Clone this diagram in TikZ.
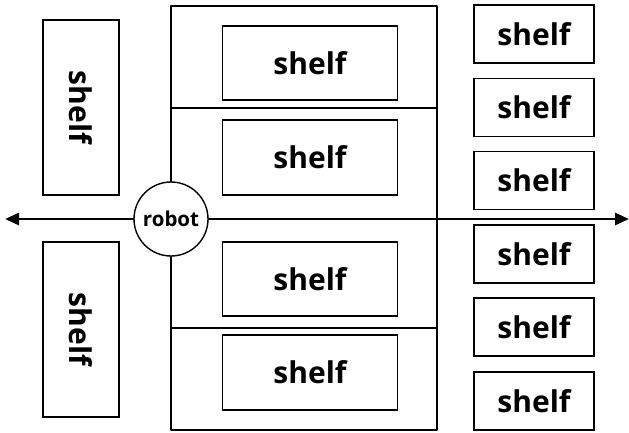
\documentclass[tikz,border=0pt]{standalone}
\usepackage{fontspec}
\setmainfont{Open Sans}
\usetikzlibrary{arrows.meta}
\begin{document}
\begin{tikzpicture}[x=1pt,y=-1pt,
  shelfbox/.style={draw,line width=1.8pt,font=\fontsize{30}{30}\selectfont\bfseries,inner sep=0pt},
  frameline/.style={line width=2.8pt},
  robotnode/.style={circle,draw,line width=1.4pt,fill=white,minimum size=74pt,inner sep=0pt,font=\fontsize{20.5}{20.5}\selectfont\bfseries}]
\useasboundingbox (0,0) rectangle (629,432);
% frame
\draw[frameline,line join=round] (171,6) -- (437,6) -- (437,430) -- (171,430) -- cycle;
\draw[frameline] (171,108) -- (437,108);
\draw[frameline] (171,328) -- (437,328);
% arrow
\coordinate (L) at (5,219);
\coordinate (R) at (629,219);
\draw[line width=2.8pt,{Triangle[length=14pt,width=12pt]}-{Triangle[length=14pt,width=12pt]}] (L) -- (R);
\node[robotnode] (robot) at (171,219) {robot};
% left shelves
\node[shelfbox,minimum width=76pt,minimum height=175pt] (l1) at (81,107.5) {};
\node[rotate=-90,font=\fontsize{30}{30}\selectfont\bfseries] (l1t) at (l1.center) {shelf};
\node[shelfbox,minimum width=76pt,minimum height=175pt] (l2) at (81,329.5) {};
\node[rotate=-90,font=\fontsize{30}{30}\selectfont\bfseries] (l2t) at (l2.center) {shelf};
% inner shelves
\node[shelfbox,minimum width=175pt,minimum height=74pt] (i1) at (310,63) {shelf};
\node[shelfbox,minimum width=175pt,minimum height=75pt] (i2) at (310,157.5) {shelf};
\node[shelfbox,minimum width=175pt,minimum height=74pt] (i3) at (310,279) {shelf};
\node[shelfbox,minimum width=175pt,minimum height=75pt] (i4) at (310,372.5) {shelf};
% right shelves
\node[shelfbox,minimum width=120pt,minimum height=58pt] (r1) at (534,34) {shelf};
\node[shelfbox,minimum width=120pt,minimum height=58pt] (r2) at (534,107.5) {shelf};
\node[shelfbox,minimum width=120pt,minimum height=58pt] (r3) at (534,180.5) {shelf};
\node[shelfbox,minimum width=120pt,minimum height=58pt] (r4) at (534,254) {shelf};
\node[shelfbox,minimum width=120pt,minimum height=58pt] (r5) at (534,327) {shelf};
\node[shelfbox,minimum width=120pt,minimum height=58pt] (r6) at (534,401) {shelf};
\end{tikzpicture}
\end{document}
